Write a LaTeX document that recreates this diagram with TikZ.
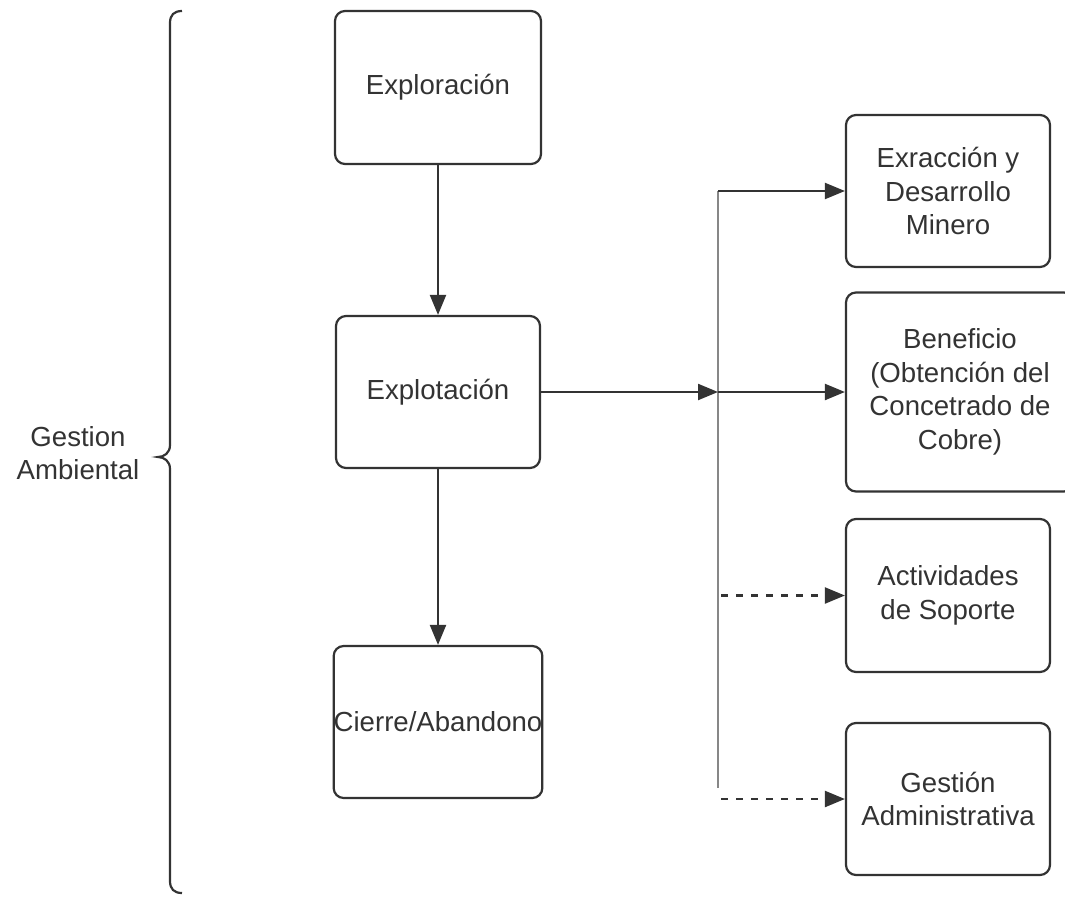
\documentclass[tikz,border=0pt]{standalone}
\usepackage{fontspec}
\setmainfont{Liberation Sans}
\usetikzlibrary{arrows.meta}
\definecolor{ink}{RGB}{51,51,51}
\definecolor{bus}{RGB}{135,135,135}
\tikzset{
  box/.style={draw=ink, line width=2.2pt, rounded corners=10pt, inner sep=0pt,
    align=center, text=ink, font=\fontsize{27.6}{33.5}\selectfont},
  conn/.style={draw=ink, line width=2.2pt, -{Triangle[length=20pt,width=16pt]}},
  dconn/.style={conn, dash pattern=on 7pt off 8pt},
  lbl/.style={align=center, text=ink, font=\fontsize{27.6}{33}\selectfont},
}
\begin{document}
\begin{tikzpicture}[x=1pt,y=-1pt]
\useasboundingbox (0,0) rectangle (1065,899);
% left column
\node[box, minimum width=206pt, minimum height=153pt] (expl) at (438,87.5) {Exploración};
\node[box, minimum width=204pt, minimum height=152pt] (explot) at (438,392) {Explotación};
\node[box, minimum width=204pt, minimum height=152pt] (cierre) at (438,722) {Cierre/Abandono};
% right column
\node[box, minimum width=204pt, minimum height=152pt] (r1) at (948,191) {Exracción y\\Desarrollo\\Minero};
\node[box, minimum width=228pt, minimum height=199pt] (r2) at (960,392) {Beneficio\\(Obtención del\\Concetrado de\\Cobre)};
\node[box, minimum width=204pt, minimum height=153pt] (r3) at (948,595.5) {Actividades\\de Soporte};
\node[box, minimum width=204pt, minimum height=152pt] (r4) at (948,799) {Gestión\\Administrativa};
% label
\node[lbl] (ga) at (78,453) {Gestion\\Ambiental};
% brace
\draw[ink, line width=2.2pt] (182,11) .. controls (174,11) and (170,15) .. (170,23)
  -- (170,445) .. controls (170,453) and (164,457) .. (158,457)
  .. controls (164,457) and (170,461) .. (170,469)
  -- (170,881) .. controls (170,889) and (174,893) .. (182,893);
% bus
\coordinate (bt) at (718,191);
\coordinate (bm) at (718,392);
\coordinate (bb) at (718,788);
\coordinate (d3) at (721,595.5);
\coordinate (d4) at (721,799);
\draw[bus, line width=2pt] (bt) -- (bb);
% connectors
\draw[conn] (expl) -- (explot);
\draw[conn] (explot) -- (cierre);
\draw[conn] (explot.east) -- (bm);
\draw[conn] (bt) -- (r1.west);
\draw[conn] (bm) -- (r2.west);
\draw[dconn] (d3) -- (r3.west);
\draw[dconn] (d4) -- (r4.west);
\end{tikzpicture}
\end{document}
